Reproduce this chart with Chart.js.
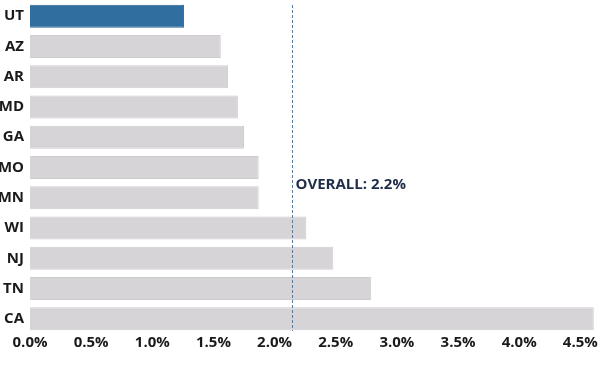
<!DOCTYPE html>
<html>
<head>
<meta charset="utf-8">
<script src="https://cdn.jsdelivr.net/npm/chart.js@4"></script>
<style>
  html, body { margin: 0; padding: 0; background: #ffffff; }
  #wrap { width: 600px; height: 370px; }
</style>
</head>
<body>
<div id="wrap"><canvas id="graph"></canvas></div>
<script>
// === DONNEES ===
const etats = ["UT", "AZ", "AR", "MD", "GA", "MO", "MN", "WI", "NJ", "TN", "CA"];
const taux = [1.26, 1.56, 1.62, 1.70, 1.75, 1.87, 1.87, 2.26, 2.48, 2.79, 4.61];
const moyenne = 2.14;
const moyenneLabel = "OVERALL: 2.2%";
const couleurs = etats.map(e => e === "UT" ? "#2f6e9e" : "#d7d4d8");

// ligne pointillee + etiquette de la moyenne
const ligneMoyenne = {
  id: "ligneMoyenne",
  afterDatasetsDraw(chart) {
    const { ctx, chartArea, scales } = chart;
    const x = Math.round(scales.x.getPixelForValue(moyenne)) + 0.5;
    ctx.save();
    ctx.strokeStyle = "#58789c";
    ctx.lineWidth = 1;
    ctx.setLineDash([3, 2]);
    ctx.beginPath();
    ctx.moveTo(x, 5);
    ctx.lineTo(x, chartArea.bottom - 3);
    ctx.stroke();
    ctx.setLineDash([]);
    ctx.fillStyle = "#1e2d4a";
    ctx.font = "bold 15px 'Open Sans'";
    ctx.textBaseline = "middle";
    ctx.fillText(moyenneLabel, x + 3, scales.y.getPixelForValue(5.5) + 2);
    ctx.restore();
  }
};

new Chart(document.getElementById("graph"), {
  type: "bar",
  data: {
    labels: etats,
    datasets: [{
      data: taux,
      backgroundColor: couleurs,
      borderColor: etats.map(e => e === "UT" ? "#2a6593" : "#cfcbd0"),
      borderWidth: 1,
      barPercentage: 0.76,
      categoryPercentage: 1
    }]
  },
  options: {
    indexAxis: "y",
    responsive: true,
    maintainAspectRatio: false,
    animation: false,
    layout: { padding: { top: 1, right: 5, left: 0, bottom: 18 } },
    plugins: { legend: { display: false }, tooltip: { enabled: false } },
    scales: {
      x: {
        min: 0,
        max: 4.62,
        grid: { display: false, drawTicks: false },
        border: { display: false },
        ticks: {
          stepSize: 0.5,
          includeBounds: false,
          maxRotation: 0,
          padding: 0,
          color: "#1a1a1a",
          font: { family: "'Open Sans'", size: 15, weight: "bold" },
          callback: v => v.toFixed(1) + "%"
        }
      },
      y: {
        grid: { display: false, drawTicks: false },
        border: { display: false },
        afterFit(scale) {
          scale.width = 30;
          scale.paddingTop = 0;
          scale.paddingBottom = 0;
        },
        ticks: {
          padding: 6,
          color: "#1a1a1a",
          font: { family: "'Open Sans'", size: 15, weight: "bold" }
        }
      }
    }
  },
  plugins: [ligneMoyenne]
});
</script>
</body>
</html>
